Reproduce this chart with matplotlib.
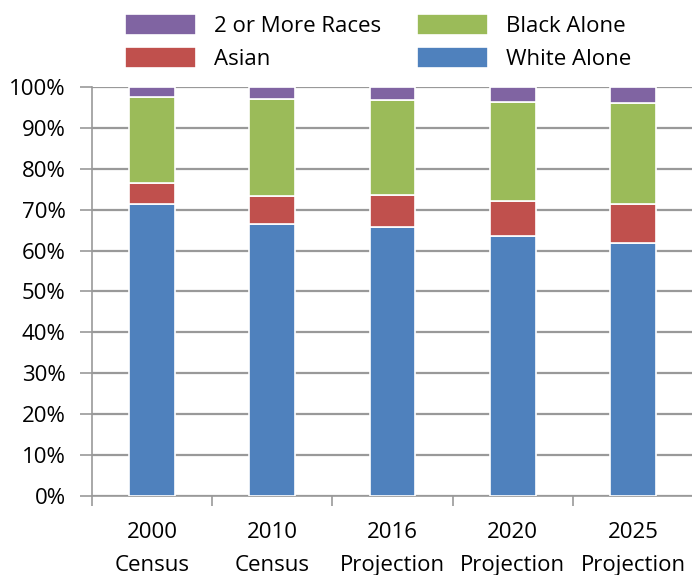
import matplotlib
matplotlib.use('Agg')
import matplotlib.pyplot as plt
import numpy as np

categories = ['2000\nCensus', '2010\nCensus', '2016\nProjection', '2020\nProjection', '2025\nProjection']
white_alone = [71.4, 66.5, 65.8, 63.6, 61.8]
asian = [5.1, 6.9, 7.8, 8.6, 9.5]
black_alone = [21.1, 23.6, 23.1, 24.2, 24.7]
two_or_more = [2.4, 3.0, 3.3, 3.6, 4.0]

plt.rcParams['font.family'] = ['Open Sans', 'DejaVu Sans']

fig = plt.figure(figsize=(6.92, 5.75), dpi=100)
ax = fig.add_axes([0.133, 0.1374, 0.8685, 0.7113])

x = np.arange(len(categories))
w = 0.38
series = [
    ('White Alone', white_alone, '#4F81BD'),
    ('Asian', asian, '#C0504D'),
    ('Black Alone', black_alone, '#9BBB59'),
    ('2 or More Races', two_or_more, '#8064A2'),
]
bottom = np.zeros(len(categories))
bars = {}
for name, vals, color in series:
    vals = np.array(vals)
    bars[name] = ax.bar(x, vals, w, bottom=bottom, color=color,
                        edgecolor='white', linewidth=1.2, label=name, zorder=3)
    bottom += vals

ax.set_xlim(-0.5, 4.5)
ax.set_ylim(0, 100)
ax.set_yticks(np.arange(0, 101, 10))
ax.set_yticklabels([f'{v}%' for v in range(0, 101, 10)], fontsize=16)
ax.yaxis.grid(True, color='#999999', linewidth=1.6, zorder=0)
ax.set_axisbelow(True)

ax.set_xticks(x)
ax.set_xticklabels(categories, fontsize=16, linespacing=1.75)
ax.tick_params(axis='x', length=0, pad=19)
# small ticks between the categories
ax.set_xticks(np.arange(-0.5, 5, 1), minor=True)
ax.tick_params(axis='x', which='minor', length=7, color='#999999', width=1.2)
ax.tick_params(axis='y', length=9, color='#999999', width=1.2, pad=10)

for s in ['top', 'right']:
    ax.spines[s].set_visible(False)
for s in ['left', 'bottom']:
    ax.spines[s].set_color('#999999')
    ax.spines[s].set_linewidth(1.2)

handles = [bars['2 or More Races'], bars['Asian'], bars['Black Alone'], bars['White Alone']]
labels = ['2 or More Races', 'Asian', 'Black Alone', 'White Alone']
fig.legend(handles, labels, ncol=2, loc='upper left', bbox_to_anchor=(0.152, 1.01),
           frameon=False, fontsize=16, handlelength=3.2, handleheight=1.05,
           columnspacing=1.6, handletextpad=0.8, labelspacing=0.45)

fig.savefig('out.png', dpi=100)
